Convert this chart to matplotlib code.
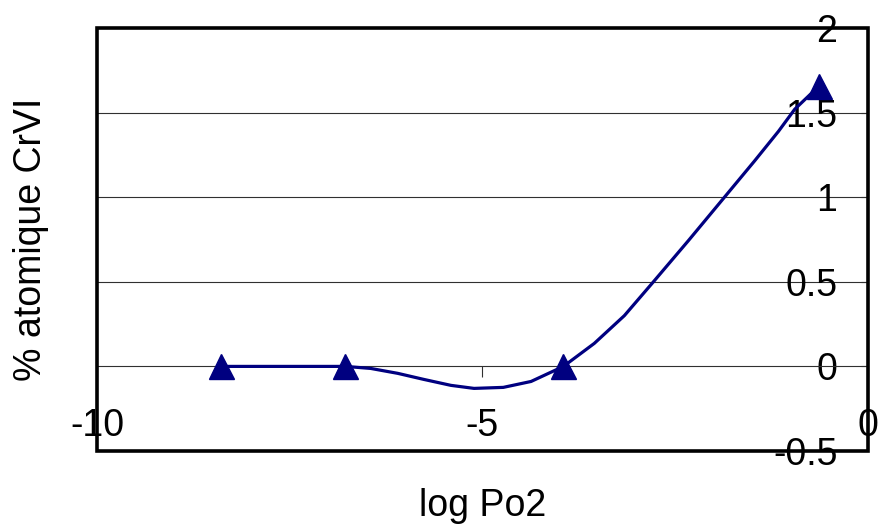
import matplotlib.pyplot as plt
from matplotlib.patches import Rectangle

# markers (measured points)
mark_x = [-8.39, -6.78, -3.95, -0.64]
mark_y = [0.0, 0.0, 0.0, 1.655]

# smoothed curve
curve_x = [-8.39, -6.78, -6.45, -6.10, -5.76, -5.41, -5.11, -4.73, -4.37,
           -3.95, -3.55, -3.16, -2.77, -2.33, -1.90, -1.47, -1.16, -0.95, -0.64]
curve_y = [0.0, 0.0, -0.012, -0.041, -0.077, -0.112, -0.130, -0.124, -0.089,
           0.0, 0.136, 0.30, 0.507, 0.743, 0.979, 1.215, 1.39, 1.52, 1.655]

xticks = [-10, -5, 0]
yticks = [-0.5, 0, 0.5, 1, 1.5, 2]
ytick_labels = ['-0.5', '0', '0.5', '1', '1.5', '2']

plt.rcParams['font.family'] = ['Liberation Sans', 'DejaVu Sans']
navy = '#000080'
fs = 27

fig = plt.figure(figsize=(8.84, 5.26), dpi=100)
ax = fig.add_axes([97/884, 75/526, 771/884, 423/526])

ax.set_xlim(-10, 0)
ax.set_ylim(-0.5, 2)

# horizontal gridlines
for g in [0.5, 1, 1.5]:
    ax.axhline(g, color='#303030', lw=0.8, zorder=1)

ax.plot(curve_x, curve_y, color=navy, lw=2.3, zorder=3, clip_on=False)
ax.plot(mark_x, mark_y, ls='none', marker='^', ms=18, color=navy, zorder=4, clip_on=False)

# x axis sits at y = 0
for s in ['top', 'left', 'right']:
    ax.spines[s].set_visible(False)
ax.spines['bottom'].set_position(('data', 0))
ax.spines['bottom'].set_color('#303030')
ax.spines['bottom'].set_linewidth(0.8)

ax.set_xticks(xticks)
ax.set_xticklabels(['-10', '-5', '0'])
ax.tick_params(axis='x', direction='out', length=8, width=0.8, color='#303030',
               labelsize=fs, pad=22)

# y axis sits at x = 0 (right edge), labels on its left
ax.yaxis.set_ticks_position('right')
ax.set_yticks(yticks)
ax.set_yticklabels(ytick_labels)
ax.tick_params(axis='y', direction='in', length=5, width=0.8, color='#303030',
               labelsize=fs, pad=-22)
for lab in ax.get_yticklabels():
    lab.set_ha('right')
    lab.set_va('center_baseline')

# outer frame
ax.add_patch(Rectangle((0, 0), 1, 1, transform=ax.transAxes, fill=False,
                       ec='black', lw=2.6, zorder=5, clip_on=False))

ax.set_xlabel('log Po2', fontsize=fs)
ax.xaxis.set_label_coords(0.5, -0.087)
ax.set_ylabel('% atomique CrVI', fontsize=fs)
ax.yaxis.set_label_position('left')
ax.yaxis.set_label_coords(-0.062, 0.5)

plt.savefig('out.png', dpi=100)
plt.close()
